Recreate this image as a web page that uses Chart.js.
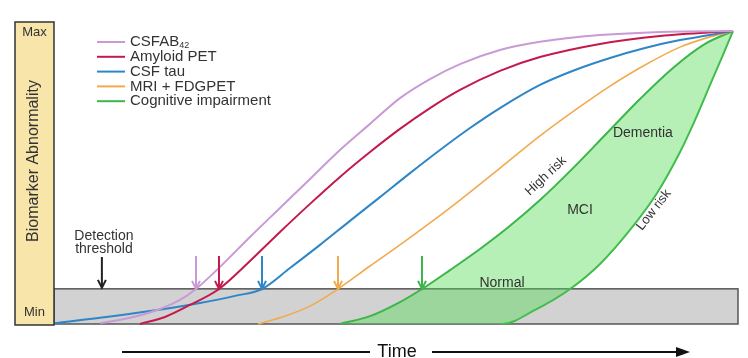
<!DOCTYPE html>
<html>
<head>
<meta charset="utf-8">
<script src="https://cdn.jsdelivr.net/npm/chart.js@4.4.1/dist/chart.umd.min.js"></script>
<style>
  html, body { margin: 0; padding: 0; background: #fff; }
  #wrap { width: 748px; height: 358px; }
</style>
</head>
<body>
<div id="wrap"><canvas id="chart"></canvas></div>
<script>
// series: time (0-100) and abnormality (0 = min, 100 = max)
const csfAbTime   = [6.73, 11.11, 15.50, 18.42, 20.76, 24.27, 28.65, 33.04, 37.43, 41.81, 46.20, 50.58, 54.97, 59.36, 65.20, 71.05, 79.82, 88.60, 99.27];
const csfAbLevel  = [0.3, 2.1, 5.1, 8.2, 11.95, 19.5, 29.7, 39.6, 49.5, 59.4, 68.3, 77.1, 83.6, 88.7, 93.5, 96.3, 98.6, 99.7, 100];

const amyloidTime  = [12.57, 16.23, 19.88, 24.12, 28.65, 33.04, 37.43, 41.81, 46.20, 50.58, 54.97, 59.36, 65.20, 71.05, 79.82, 88.60, 99.27];
const amyloidLevel = [0, 2.4, 6.5, 11.95, 21.5, 31.4, 41.0, 50.2, 58.7, 66.6, 73.7, 79.9, 86.4, 91.1, 95.6, 98.3, 100];

const tauTime  = [0, 6.73, 14.04, 21.35, 26.46, 30.41, 34.50, 38.89, 43.27, 47.66, 52.05, 56.43, 60.82, 65.20, 71.05, 76.17, 81.29, 86.40, 91.52, 95.91, 99.27];
const tauLevel = [0.3, 2.1, 4.4, 7.2, 9.6, 11.95, 19.1, 27.0, 35.2, 43.3, 51.5, 59.4, 66.9, 73.7, 81.6, 86.7, 90.8, 94.2, 96.9, 98.6, 100];

const mriTime  = [29.82, 33.04, 37.43, 41.52, 46.20, 50.58, 54.97, 59.36, 65.20, 71.05, 76.17, 81.29, 86.40, 91.52, 95.91, 99.27];
const mriLevel = [0, 2.1, 6.1, 11.95, 19.8, 27.0, 34.5, 42.3, 53.2, 64.2, 73.0, 81.2, 88.4, 94.5, 98.0, 100];

const highRiskTime  = [41.81, 46.20, 50.58, 53.80, 57.89, 62.28, 66.67, 71.05, 75.88, 80.85, 85.67, 90.50, 95.18, 99.27];
const highRiskLevel = [0, 2.7, 7.5, 11.95, 18.4, 25.6, 33.5, 42.3, 53.2, 65.2, 76.8, 87.4, 95.6, 100];

const lowRiskTime  = [41.81, 65.50, 70.32, 75.44, 79.82, 84.21, 88.16, 91.52, 93.71, 95.91, 97.66, 99.27];
const lowRiskLevel = [0, 0, 4.8, 11.95, 20.5, 32.1, 44.7, 58.7, 69.6, 81.6, 91.1, 100];

const seriesNames = ['CSFAB', 'Amyloid PET', 'CSF tau', 'MRI + FDGPET', 'Cognitive impairment'];
const seriesSubs  = ['42', '', '', '', ''];
const seriesColors = ['#c99ad6', '#c21a4c', '#2e86c8', '#f2aa4c', '#3cb54a'];

const threshold = 12;                                     // detection threshold
const crossings = [20.76, 24.12, 30.41, 41.52, 53.80];    // where each curve passes the threshold

const FONT = '"Liberation Sans", Arial, sans-serif';

function pts(xs, ys) {
  return xs.map((x, i) => ({ x, y: ys[i] }));
}

function arrowDown(ctx, x, y0, y1, color) {
  ctx.strokeStyle = color;
  ctx.lineWidth = 2;
  ctx.beginPath();
  ctx.moveTo(x, y0);
  ctx.lineTo(x, y1);
  ctx.moveTo(x - 4, y1 - 8);
  ctx.lineTo(x, y1);
  ctx.lineTo(x + 4, y1 - 8);
  ctx.stroke();
}

const decor = {
  id: 'decor',
  beforeDatasetsDraw(chart) {
    const { ctx, chartArea: a, scales: { y } } = chart;
    const yT = y.getPixelForValue(threshold);
    const yB = y.getPixelForValue(0);
    ctx.save();
    ctx.fillStyle = '#d2d2d2';
    ctx.fillRect(a.left, yT, a.right - a.left, yB - yT);
    ctx.strokeStyle = '#555';
    ctx.lineWidth = 1.5;
    ctx.strokeRect(a.left, yT, a.right - a.left, yB - yT);
    ctx.restore();
  },
  afterDatasetsDraw(chart) {
    const { ctx, chartArea: a, scales: { x, y } } = chart;
    const yB = y.getPixelForValue(0);
    ctx.save();

    // yellow axis panel
    ctx.fillStyle = '#f8e5a9';
    ctx.strokeStyle = '#333';
    ctx.lineWidth = 1.5;
    ctx.fillRect(a.left - 39, a.top - 9, 39, yB - a.top + 10);
    ctx.strokeRect(a.left - 39, a.top - 9, 39, yB - a.top + 10);
    ctx.fillStyle = '#333';
    ctx.font = '13px ' + FONT;
    ctx.textAlign = 'center';
    ctx.textBaseline = 'middle';
    ctx.fillText('Max', a.left - 19.5, a.top + 1);
    ctx.fillText('Min', a.left - 19.5, yB - 12);
    ctx.save();
    ctx.translate(a.left - 20, 161);
    ctx.rotate(-Math.PI / 2);
    ctx.font = '16px ' + FONT;
    ctx.fillText('Biomarker Abnormality', 0, 0);
    ctx.restore();

    // legend
    ctx.textAlign = 'left';
    seriesNames.forEach((name, i) => {
      const ly = 42 + i * 14.8;
      ctx.strokeStyle = seriesColors[i];
      ctx.lineWidth = 2;
      ctx.beginPath();
      ctx.moveTo(97, ly);
      ctx.lineTo(125, ly);
      ctx.stroke();
      ctx.fillStyle = '#333';
      ctx.font = '15px ' + FONT;
      ctx.fillText(name, 130, ly);
      if (seriesSubs[i]) {
        const w = ctx.measureText(name).width;
        ctx.font = '9px ' + FONT;
        ctx.fillText(seriesSubs[i], 130 + w, ly + 4);
      }
    });

    // threshold arrows
    const yTop = y.getPixelForValue(23.2);
    const yT = y.getPixelForValue(threshold);
    crossings.forEach((c, i) => arrowDown(ctx, x.getPixelForValue(c), yTop, yT, seriesColors[i]));
    arrowDown(ctx, x.getPixelForValue(7.0), yTop + 1, yT - 1, '#222');

    ctx.fillStyle = '#333';
    ctx.font = '14px ' + FONT;
    ctx.textAlign = 'center';
    ctx.fillText('Detection', x.getPixelForValue(7.3), y.getPixelForValue(30.0));
    ctx.fillText('threshold', x.getPixelForValue(7.3), y.getPixelForValue(25.6));
    ctx.fillText('Normal', x.getPixelForValue(65.5), y.getPixelForValue(14.0));
    ctx.fillText('MCI', x.getPixelForValue(76.9), y.getPixelForValue(38.9));
    ctx.fillText('Dementia', x.getPixelForValue(86.1), y.getPixelForValue(65.2));

    ctx.font = '13px ' + FONT;
    [['High risk', 71.9, 50.5, -43], ['Low risk', 87.7, 38.9, -52]].forEach(([t, tx, ty, ang]) => {
      ctx.save();
      ctx.translate(x.getPixelForValue(tx), y.getPixelForValue(ty));
      ctx.rotate(ang * Math.PI / 180);
      ctx.fillText(t, 0, 0);
      ctx.restore();
    });

    // time arrow
    const ty = yB + 28;
    ctx.strokeStyle = '#111';
    ctx.fillStyle = '#111';
    ctx.lineWidth = 2;
    ctx.beginPath();
    ctx.moveTo(122, ty);
    ctx.lineTo(370, ty);
    ctx.moveTo(432, ty);
    ctx.lineTo(678, ty);
    ctx.stroke();
    ctx.beginPath();
    ctx.moveTo(690, ty);
    ctx.lineTo(676, ty - 5);
    ctx.lineTo(676, ty + 5);
    ctx.closePath();
    ctx.fill();
    ctx.font = '18px ' + FONT;
    ctx.textAlign = 'center';
    ctx.fillText('Time', 397, ty);

    ctx.restore();
  }
};

const lineDs = (data, color, extra) => Object.assign({
  data,
  borderColor: color,
  borderWidth: 2,
  pointRadius: 0,
  fill: false,
  cubicInterpolationMode: 'monotone',
  clip: 6
}, extra || {});

new Chart(document.getElementById('chart'), {
  type: 'line',
  data: {
    datasets: [
      lineDs(pts(csfAbTime, csfAbLevel), seriesColors[0]),
      lineDs(pts(amyloidTime, amyloidLevel), seriesColors[1]),
      lineDs(pts(tauTime, tauLevel), seriesColors[2]),
      lineDs(pts(mriTime, mriLevel), seriesColors[3], { borderWidth: 1.6 }),
      lineDs(pts(highRiskTime, highRiskLevel), seriesColors[4], {
        fill: '+1',
        backgroundColor: 'rgba(80, 220, 80, 0.42)'
      }),
      lineDs(pts(lowRiskTime, lowRiskLevel), seriesColors[4], {
        segment: { borderColor: c => c.p0DataIndex === 0 ? 'rgba(0,0,0,0)' : undefined }
      })
    ]
  },
  options: {
    responsive: true,
    maintainAspectRatio: false,
    animation: false,
    events: [],
    layout: { padding: { left: 54, right: 10, top: 31, bottom: 34 } },
    plugins: { legend: { display: false }, tooltip: { enabled: false } },
    scales: {
      x: { type: 'linear', min: 0, max: 100, display: false },
      y: { min: 0, max: 100, display: false }
    }
  },
  plugins: [decor]
});
</script>
</body>
</html>
